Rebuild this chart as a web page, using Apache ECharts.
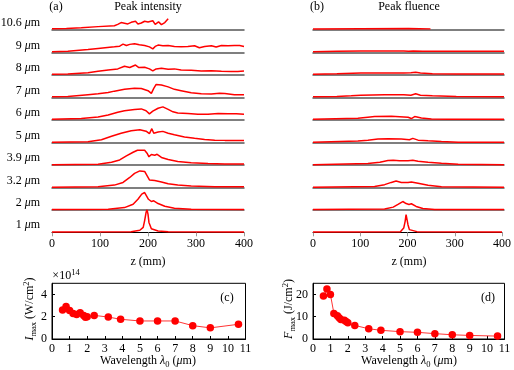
<!DOCTYPE html>
<html>
<head>
<meta charset="utf-8">
<script src="https://cdn.jsdelivr.net/npm/echarts@6/dist/echarts.min.js"></script>
<style>
  html, body { margin: 0; padding: 0; background: #fff; }
  #chart { width: 514px; height: 370px; }
</style>
</head>
<body>
<div id="chart"></div>
<script>
// row labels, top to bottom (wavelength in um)
const rowLabels = ['10.6', '9', '8', '7', '6', '5', '3.9', '3.2', '2', '1']

// peak intensity per row, [z (mm), relative value]
const int10_6 = [[0,0.06],[30,0.07],[61,0.10],[96,0.15],[130,0.19],[137,0.25],[144,0.33],[151,0.30],[158,0.27],[165,0.34],[174,0.39],[179,0.27],[186,0.31],[193,0.39],[200,0.36],[203,0.28],[210,0.41],[215,0.25],[222,0.36],[228,0.24],[235,0.33],[242,0.50]]
const int9 = [[0,0.03],[33,0.06],[75,0.13],[96,0.18],[130,0.25],[141,0.28],[148,0.37],[155,0.31],[162,0.36],[172,0.39],[182,0.34],[193,0.31],[203,0.25],[210,0.16],[215,0.27],[221,0.33],[231,0.30],[242,0.31],[255,0.27],[269,0.25],[283,0.27],[297,0.30],[307,0.21],[318,0.27],[332,0.30],[342,0.24],[353,0.31],[367,0.30],[380,0.31],[391,0.31],[400,0.27]]
const int8 = [[0,0.03],[33,0.04],[75,0.10],[96,0.16],[117,0.22],[137,0.27],[151,0.39],[162,0.33],[174,0.44],[181,0.33],[193,0.34],[203,0.27],[210,0.18],[217,0.27],[228,0.30],[242,0.25],[255,0.27],[269,0.22],[290,0.21],[311,0.18],[332,0.19],[353,0.16],[373,0.15],[387,0.15],[400,0.18]]
const int7 = [[0,0.03],[33,0.04],[75,0.12],[96,0.16],[117,0.22],[130,0.28],[151,0.36],[172,0.41],[186,0.40],[200,0.30],[207,0.18],[212,0.40],[217,0.58],[228,0.55],[242,0.47],[255,0.36],[269,0.30],[290,0.21],[311,0.16],[332,0.15],[349,0.19],[360,0.18],[380,0.12],[400,0.12]]
const int6 = [[0,0.03],[61,0.06],[96,0.13],[117,0.22],[137,0.34],[151,0.41],[172,0.46],[186,0.49],[196,0.41],[203,0.27],[210,0.39],[221,0.52],[231,0.58],[242,0.47],[252,0.36],[262,0.31],[283,0.28],[304,0.25],[325,0.25],[346,0.28],[367,0.27],[384,0.27],[400,0.25]]
const int5 = [[0,0.01],[75,0.03],[103,0.12],[124,0.27],[144,0.41],[165,0.52],[183,0.56],[196,0.50],[203,0.39],[208,0.61],[212,0.41],[221,0.46],[231,0.49],[242,0.41],[255,0.34],[276,0.24],[297,0.18],[318,0.13],[339,0.10],[360,0.09],[380,0.09],[400,0.09]]
const int3_9 = [[0,0.01],[96,0.03],[124,0.12],[141,0.22],[155,0.40],[169,0.56],[178,0.65],[193,0.65],[198,0.52],[202,0.36],[207,0.46],[214,0.43],[219,0.47],[228,0.33],[242,0.24],[262,0.15],[290,0.09],[325,0.06],[360,0.04],[400,0.04]]
const int3_2 = [[0,0.01],[96,0.03],[130,0.10],[148,0.22],[162,0.44],[172,0.62],[183,0.73],[193,0.71],[198,0.52],[203,0.33],[214,0.30],[228,0.24],[242,0.16],[262,0.10],[290,0.06],[339,0.03],[400,0.03]]
const int2 = [[0,0.01],[117,0.03],[151,0.10],[169,0.25],[179,0.47],[187,0.70],[193,0.77],[197,0.73],[201,0.47],[207,0.37],[212,0.40],[221,0.28],[235,0.16],[255,0.07],[290,0.03],[400,0.01]]
const int1 = [[0,0.01],[165,0.03],[183,0.09],[190,0.22],[193,0.52],[196,0.89],[198,1.0],[200,0.81],[202,0.44],[207,0.16],[221,0.06],[242,0.03],[400,0.01]]

// peak fluence per row, [z (mm), relative value]
const flu10_6 = [[0,0.04],[100,0.06],[200,0.07],[246,0.05]]
const flu9 = [[0,0.03],[50,0.05],[100,0.07],[150,0.07],[190,0.07],[200,0.05],[210,0.07],[230,0.06],[260,0.05],[300,0.05],[400,0.05]]
const flu8 = [[0,0.03],[50,0.05],[100,0.09],[150,0.09],[190,0.09],[205,0.10],[215,0.12],[225,0.09],[250,0.05],[300,0.04],[400,0.04]]
const flu7 = [[0,0.03],[50,0.04],[80,0.07],[100,0.10],[150,0.12],[190,0.12],[205,0.10],[215,0.16],[225,0.10],[250,0.07],[300,0.04],[400,0.03]]
const flu6 = [[0,0.03],[94,0.07],[115,0.12],[129,0.15],[164,0.16],[199,0.12],[206,0.06],[213,0.15],[227,0.09],[248,0.04],[283,0.03],[400,0.03]]
const flu5 = [[0,0.01],[94,0.06],[115,0.10],[136,0.15],[157,0.16],[185,0.15],[202,0.12],[209,0.18],[220,0.10],[241,0.07],[269,0.04],[304,0.01],[400,0.01]]
const flu3_9 = [[0,0.01],[115,0.06],[140,0.12],[157,0.19],[168,0.21],[181,0.18],[199,0.18],[202,0.13],[209,0.21],[220,0.16],[241,0.12],[269,0.07],[304,0.03],[400,0.01]]
const flu3_2 = [[0,0.01],[129,0.04],[150,0.12],[164,0.22],[174,0.28],[185,0.22],[199,0.22],[201,0.15],[206,0.24],[220,0.18],[241,0.09],[269,0.03],[400,0.01]]
const flu2 = [[0,0.01],[150,0.04],[168,0.12],[178,0.24],[188,0.37],[195,0.28],[201,0.24],[206,0.27],[216,0.15],[230,0.06],[255,0.01],[400,0.01]]
const flu1 = [[0,0.01],[185,0.03],[192,0.19],[195,0.49],[197,0.79],[199,0.76],[201,0.34],[204,0.12],[220,0.03],[400,0.01]]

// (c) max intensity, x10^14 W/cm^2
const lambdaC = [0.6, 0.8, 1.0, 1.2, 1.4, 1.6, 1.8, 1.9, 2.0, 2.4, 3.2, 3.9, 5, 6, 7, 8, 9, 10.6]
const imax = [2.6, 2.92, 2.55, 2.3, 2.2, 2.35, 2.1, 1.95, 2.0, 2.12, 1.97, 1.77, 1.62, 1.62, 1.62, 1.2, 1.0, 1.32]
// (d) max fluence, J/cm^2
const lambdaD = [0.6, 0.8, 1.0, 1.2, 1.4, 1.5, 1.6, 1.8, 1.9, 2.0, 2.4, 3.2, 3.9, 5, 6, 7, 8, 9, 10.6]
const fmax = [19.3, 22.4, 20, 11.5, 10.4, 9.5, 8.8, 8.4, 7.9, 7.3, 6.1, 4.6, 3.9, 3.3, 3.0, 2.4, 1.9, 1.6, 1.3]

const intRows = [int10_6, int9, int8, int7, int6, int5, int3_9, int3_2, int2, int1]
const fluRows = [flu10_6, flu9, flu8, flu7, flu6, flu5, flu3_9, flu3_2, flu2, flu1]

const FONT = 'Liberation Serif'
const FS = 12
const RED = '#ff0000'
const rowBase0 = 30, rowStep = 22.48, rowH = 22.5

const grids = [], xAxes = [], yAxes = [], series = [], texts = []

function addRow(left, width, i, data) {
  const idx = grids.length
  const last = i === rowLabels.length - 1
  grids.push({ left: left, top: rowBase0 + rowStep * i - rowH, width: width, height: rowH })
  xAxes.push({
    gridIndex: idx, type: 'value', min: 0, max: 400, interval: 100,
    axisLine: { show: true, onZero: false, lineStyle: { color: last ? '#000' : '#555', width: last ? 1 : 1.5 } },
    axisTick: { show: last, length: 4, lineStyle: { color: '#999' } },
    axisLabel: { show: last, fontFamily: FONT, fontSize: FS, color: '#000', margin: 6 },
    splitLine: { show: false }
  })
  yAxes.push({ gridIndex: idx, type: 'value', min: 0, max: 1, show: false })
  series.push({
    type: 'line', xAxisIndex: idx, yAxisIndex: idx, data: data,
    symbol: 'none', clip: false, lineStyle: { color: RED, width: 1.5 }
  })
}

intRows.forEach((d, i) => addRow(52, 192, i, d))
fluRows.forEach((d, i) => addRow(313, 191, i, d))

const plain = { fontFamily: FONT, fontSize: FS, fill: '#000' }
const ital = { fontFamily: FONT, fontSize: FS, fontStyle: 'italic', fill: '#000' }
const sub = { fontFamily: FONT, fontSize: 8.5, fill: '#000', verticalAlign: 'bottom', lineHeight: 16 }
const sup = { fontFamily: FONT, fontSize: 8.5, fill: '#000', verticalAlign: 'top', lineHeight: 16 }
const rich = { n: plain, i: ital, s: sub, p: sup }

// row labels on the left
rowLabels.forEach((l, i) => {
  texts.push({
    type: 'text', x: 40, y: rowBase0 + rowStep * i - 7,
    style: { text: '{n|' + l + ' }{i|μ}{n|m}', align: 'right', verticalAlign: 'middle', rich: rich }
  })
})

function addXY(left, width, xs, ys, ymax, yint) {
  const idx = grids.length
  grids.push({ left: left, top: 283.3, width: width, height: 55.7, show: true, borderColor: '#000', borderWidth: 1 })
  xAxes.push({
    gridIndex: idx, type: 'value', min: 0, max: 11, interval: 1,
    axisLine: { lineStyle: { color: '#000' } },
    axisTick: { inside: true, length: 3, lineStyle: { color: '#000' } },
    axisLabel: { fontFamily: FONT, fontSize: FS, color: '#000', margin: 4 },
    splitLine: { show: false }
  })
  yAxes.push({
    gridIndex: idx, type: 'value', min: 0, max: ymax, interval: yint,
    axisLine: { show: true, lineStyle: { color: '#000' } },
    axisTick: { inside: true, length: 3, lineStyle: { color: '#000' } },
    axisLabel: { fontFamily: FONT, fontSize: FS, color: '#000', margin: 5, showMaxLabel: false,
      formatter: v => (v % yint === 0 ? String(v) : '') },
    splitLine: { show: false }
  })
  series.push({
    type: 'line', xAxisIndex: idx, yAxisIndex: idx,
    data: xs.map((x, k) => [x, ys[k]]),
    symbol: 'circle', symbolSize: 7.5, showAllSymbol: true,
    itemStyle: { color: RED }, lineStyle: { color: RED, width: 0.8 }
  })
}

addXY(52, 193.5, lambdaC, imax, 5, 2)
addXY(313, 191.5, lambdaD, fmax, 25, 10)

function label(x, y, text, opts) {
  texts.push(Object.assign({
    type: 'text', x: x, y: y,
    style: { text: text, align: 'center', verticalAlign: 'middle', rich: rich }
  }, opts || {}))
}

label(56, 7, '{n|(a)}')
label(148, 7, '{n|Peak intensity}')
label(317, 7, '{n|(b)}')
label(409, 7, '{n|Peak fluence}')
label(148, 262, '{n|z (mm)}')
label(409, 262, '{n|z (mm)}')
label(148, 361, '{n|Wavelength }{i|λ}{s|0}{n| (}{i|μ}{n|m)}')
label(409, 361, '{n|Wavelength }{i|λ}{s|0}{n| (}{i|μ}{n|m)}')
label(227, 297.5, '{n|(c)}')
label(488, 297.5, '{n|(d)}')
label(66, 276, '{n|×10}{p|14}')
label(30, 309, '{i|I}{s|max}{n| (W/cm}{p|2}{n|)}', { rotation: Math.PI / 2 })
label(289, 309, '{i|F}{s|max}{n| (J/cm}{p|2}{n|)}', { rotation: Math.PI / 2 })

const chart = echarts.init(document.getElementById('chart'), null, { renderer: 'canvas' })
chart.setOption({
  animation: false,
  backgroundColor: '#fff',
  grid: grids,
  xAxis: xAxes,
  yAxis: yAxes,
  series: series,
  graphic: texts
})
</script>
</body>
</html>
